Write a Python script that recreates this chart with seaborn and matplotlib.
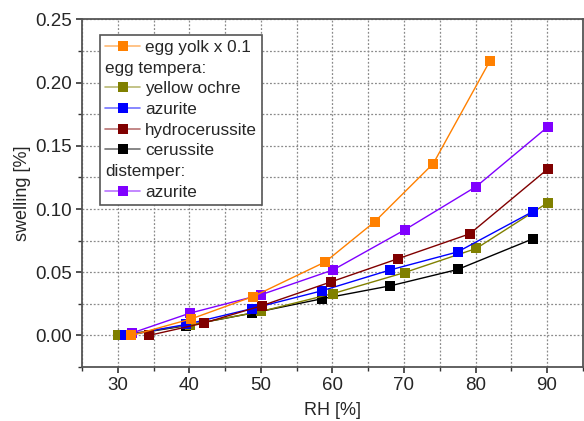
import matplotlib
matplotlib.use("Agg")
import matplotlib.pyplot as plt
from matplotlib.lines import Line2D
from matplotlib.ticker import MultipleLocator
import seaborn as sns
import pandas as pd

# ---- data ----
series_names = ["egg yolk x 0.1", "yellow ochre", "azurite (egg tempera)",
                "hydrocerussite", "cerussite", "azurite (distemper)"]

yolk_rh = [31.9, 40.3, 48.9, 59.0, 65.9, 74.1, 82.0]
yolk_sw = [0.000, 0.0132, 0.0308, 0.0582, 0.0899, 0.136, 0.217]

ochre_rh = [30.0, 40.1, 50.0, 60.1, 70.1, 80.1, 90.1]
ochre_sw = [0.000, 0.0085, 0.019, 0.0332, 0.0498, 0.0688, 0.105]

azurite_rh = [31.0, 39.6, 48.8, 58.5, 68.1, 77.5, 88.0]
azurite_sw = [0.000, 0.0088, 0.0213, 0.0353, 0.0519, 0.0661, 0.098]

hydro_rh = [34.3, 42.0, 50.1, 59.8, 69.1, 79.2, 90.1]
hydro_sw = [0.000, 0.0098, 0.0235, 0.0424, 0.0606, 0.0804, 0.1317]

ceru_rh = [30.9, 39.5, 48.8, 58.5, 68.1, 77.5, 88.0]
ceru_sw = [0.000, 0.0077, 0.0177, 0.029, 0.0393, 0.0522, 0.0764]

dist_rh = [32.0, 40.1, 50.0, 60.1, 70.1, 80.1, 90.1]
dist_sw = [0.002, 0.0177, 0.0322, 0.0519, 0.0835, 0.1178, 0.165]

colors = ["#FF8000", "#808000", "#0000FF", "#800000", "#000000", "#8000FF"]

legend_labels = ["egg yolk x 0.1", "egg tempera:", "yellow ochre", "azurite",
                 "hydrocerussite", "cerussite", "distemper:", "azurite"]
headers = ["egg tempera:", "distemper:"]

x_ticks = [30, 40, 50, 60, 70, 80, 90]
y_ticks = [0.00, 0.05, 0.10, 0.15, 0.20, 0.25]

# ---- figure ----
sns.set_style("white")
plt.rcParams["font.family"] = ["Liberation Sans", "DejaVu Sans"]

fig = plt.figure(figsize=(5.84, 4.21), dpi=100)
ax = fig.add_axes([0.1404, 0.128, 0.998 - 0.1404, 0.954 - 0.128])

all_rh = [yolk_rh, ochre_rh, azurite_rh, hydro_rh, ceru_rh, dist_rh]
all_sw = [yolk_sw, ochre_sw, azurite_sw, hydro_sw, ceru_sw, dist_sw]

order = [4, 1, 2, 3, 5, 0]
for i in order:
    df = pd.DataFrame({"RH": all_rh[i], "sw": all_sw[i]})
    sns.lineplot(data=df, x="RH", y="sw", ax=ax, color=colors[i], marker="s",
                 markersize=7.2, markeredgewidth=0, linewidth=1.0, sort=False,
                 legend=False, zorder=3)

ax.set_xlim(25, 95)
ax.set_ylim(-0.025, 0.25)
ax.set_xticks(x_ticks)
ax.set_yticks(y_ticks)
ax.set_yticklabels([f"{v:.2f}" for v in y_ticks])
ax.xaxis.set_minor_locator(MultipleLocator(5))
ax.yaxis.set_minor_locator(MultipleLocator(0.025))

ax.grid(True, which="both", linestyle=(0, (1.5, 1.5)), color="#8a8a8a", linewidth=0.9)
ax.set_axisbelow(True)

for s in ax.spines.values():
    s.set_color("#555555")
    s.set_linewidth(1.3)

ax.tick_params(which="major", direction="out", length=4, width=1.2,
               color="#333333", labelsize=13.5, left=True, bottom=True, pad=3)
ax.tick_params(which="minor", direction="out", length=3, width=1.0,
               color="#333333", left=True, bottom=True)

ax.set_xlabel("RH [%]", fontsize=13, labelpad=6)
ax.set_ylabel("swelling [%]", fontsize=13, labelpad=3)

# ---- legend ----
handles = []
legend_colors = [colors[0], None, colors[1], colors[2], colors[3], colors[4], None, colors[5]]
for c in legend_colors:
    if c is None:
        handles.append(Line2D([], [], linestyle="none", marker=None))
    else:
        ln = Line2D([], [], color=c, linewidth=1.2, alpha=0.55)
        mk = Line2D([], [], color=c, marker="s", markersize=7.2,
                    markeredgewidth=0, linestyle="none")
        handles.append((ln, mk))

leg = ax.legend(handles, legend_labels, loc="upper left",
                bbox_to_anchor=(0.036, 0.955), fontsize=12.3, frameon=True,
                fancybox=False, edgecolor="#555555", framealpha=1,
                handlelength=2.05, handletextpad=0.3, labelspacing=0.33,
                borderpad=0.3, borderaxespad=0)
leg.get_frame().set_linewidth(1.2)

try:
    for col in leg._legend_handle_box.get_children():
        for row in col.get_children():
            hb, tb = row.get_children()
            txt = tb.get_children()[0].get_text()
            if txt in headers:
                hb.width = 0
                row.sep = 0
except Exception:
    pass

fig.savefig("out.png", dpi=100)
